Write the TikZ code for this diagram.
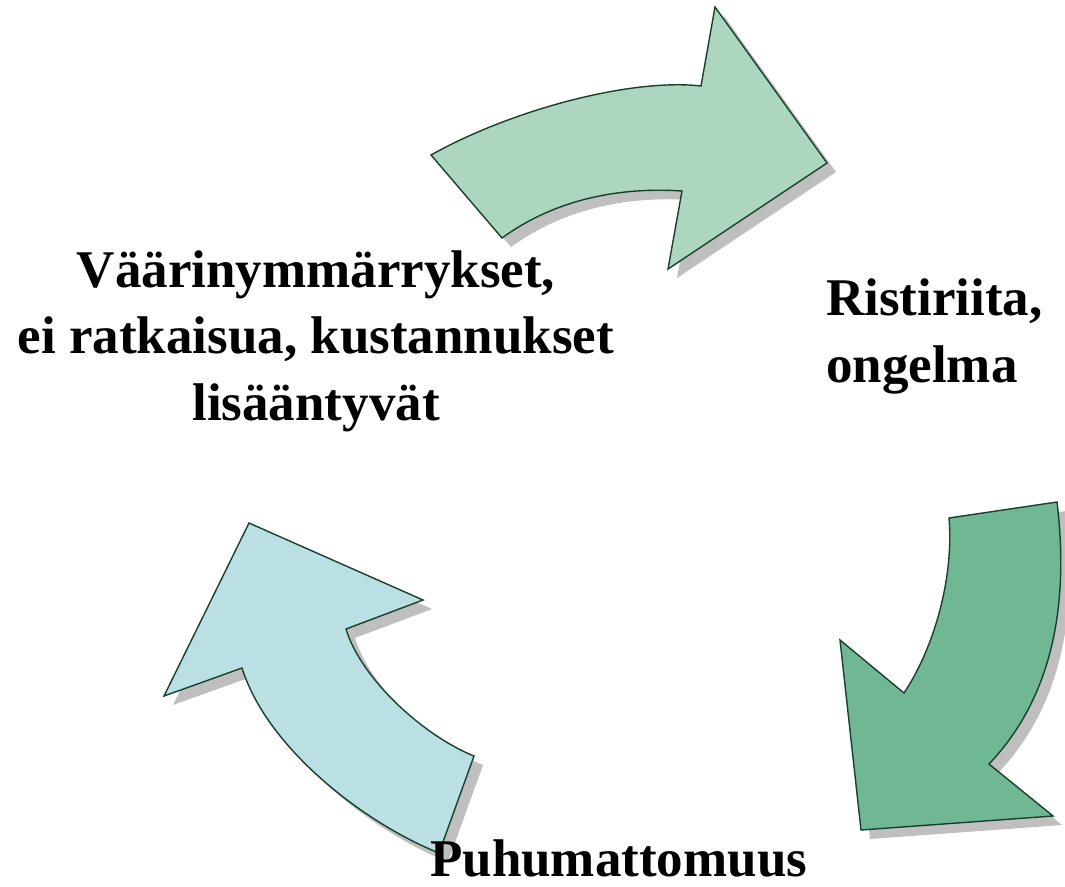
\documentclass[tikz,border=0pt]{standalone}
\usepackage{fontspec}
\setmainfont{Liberation Serif}
\usepackage{tikz}
\usetikzlibrary{positioning}

\definecolor{toparrow}{RGB}{172,214,192}
\definecolor{rightarrow}{RGB}{111,184,147}
\definecolor{leftarrow}{RGB}{186,224,227}
\definecolor{arrowedge}{RGB}{24,64,44}

% outlines of the three bent arrows (pixel coordinates)
\def\toppath{(431,155) .. controls (511,110) and (631,78) .. (701,86) -- (715,7) -- (827,163)
    -- (668,269) -- (682,191) .. controls (622,187) and (557,198) .. (502,238) -- cycle}
\def\rightpath{(1057,502) -- (949,518) .. controls (954,578) and (934,648) .. (904,693)
    -- (840,640) -- (861,830) -- (1053,816) -- (989,764) .. controls (1050,700) and (1070,610) .. (1057,502) -- cycle}
\def\leftpath{(474,756) -- (439,853) .. controls (364,823) and (267,748) .. (242,668)
    -- (164,696) -- (249,523) -- (423,600) -- (346,629) .. controls (361,679) and (424,736) .. (474,756) -- cycle}

\tikzset{
    bent/.style={draw=arrowedge, line width=1.4pt, line join=miter},
    shade/.style={fill=gray!50, shift={(9,9)}},
    label/.style={font=\bfseries\fontsize{53}{66.5}\selectfont, inner sep=0pt},
}

\begin{document}
\begin{tikzpicture}[x=1pt, y=-1pt]
\useasboundingbox (0,0) rectangle (1065,886);

% shadows first
\fill[shade] \toppath;
\fill[shade] \rightpath;
\fill[shade] \leftpath;

\draw[bent, fill=toparrow] \toppath;
\draw[bent, fill=rightarrow] \rightpath;
\draw[bent, fill=leftarrow] \leftpath;

\node[label, align=center, anchor=base] (misund) at (316,420)
    {Väärinymmärrykset,\\ei ratkaisua, kustannukset\\lisääntyvät};
\node[label, align=left, anchor=base west] (conflict) at (826,382)
    {Ristiriita,\\ongelma};
\node[label, anchor=base west] (silence) at (430,876) {Puhumattomuus};

\end{tikzpicture}
\end{document}
